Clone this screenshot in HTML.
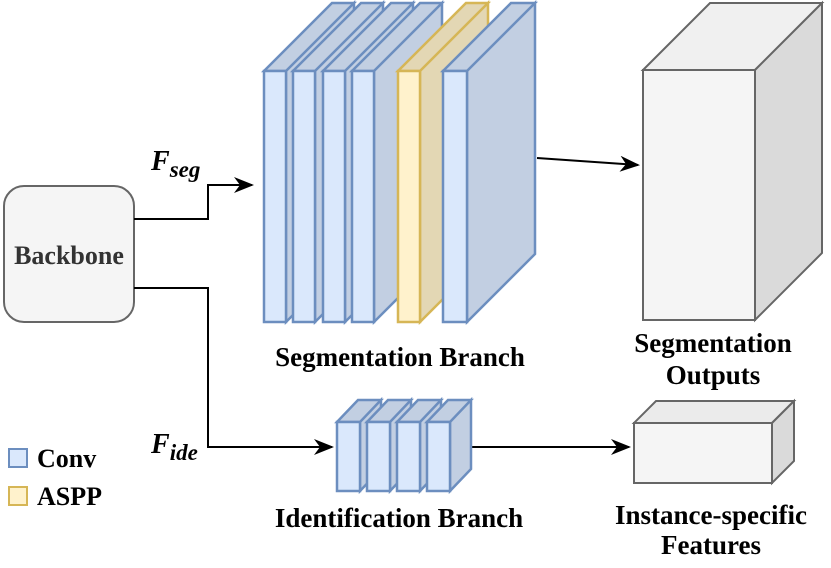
<!DOCTYPE html>
<html><head><style>body{margin:0;background:#fff}svg{display:block}text{font-family:"Liberation Serif",serif;font-weight:bold;fill:#000}</style></head><body>
<svg width="831" height="568" viewBox="0 0 831 568" xmlns="http://www.w3.org/2000/svg">
<defs>
<marker id="b" viewBox="0 0 10 10" markerWidth="20" markerHeight="16" refX="9" refY="5" orient="auto" markerUnits="userSpaceOnUse" preserveAspectRatio="none"><path d="M0,0 L10,5 L0,10 L3,5 z" fill="#000"/></marker></defs>
<rect x="4" y="186" width="130" height="136" rx="20" fill="#f5f5f5" stroke="#666" stroke-width="2"/>
<text x="69" y="264" font-size="26" text-anchor="middle" style="fill:#333">Backbone</text>
<g stroke="#000" stroke-width="2" fill="none">
<path d="M134,219 H208 V185 H252" marker-end="url(#b)"/>
<path d="M134,288 H208 V447 H332" marker-end="url(#b)"/>
<path d="M537,158 L638,165" marker-end="url(#b)"/>
<path d="M472,447 H629" marker-end="url(#b)"/>
</g>
<g stroke-width="2.5" stroke-linejoin="miter">
<g stroke="#6c8ebf">
<path d="M264,71 L332,3 H354 L286,71 Z M286,71 L354,3 V254 L286,322 Z" fill="#c2cfe2"/><rect x="264" y="71" width="22" height="251" fill="#dae8fc"/>
<path d="M293,71 L361,3 H383 L315,71 Z M315,71 L383,3 V254 L315,322 Z" fill="#c2cfe2"/><rect x="293" y="71" width="22" height="251" fill="#dae8fc"/>
<path d="M323,71 L391,3 H413 L345,71 Z M345,71 L413,3 V254 L345,322 Z" fill="#c2cfe2"/><rect x="323" y="71" width="22" height="251" fill="#dae8fc"/>
<path d="M352,71 L420,3 H442 L374,71 Z M374,71 L442,3 V254 L374,322 Z" fill="#c2cfe2"/><rect x="352" y="71" width="22" height="251" fill="#dae8fc"/>
</g>
<g stroke="#d6b656">
<path d="M398,71 L466,3 H488 L420,71 Z M420,71 L488,3 V254 L420,322 Z" fill="#e3d7b4"/><rect x="398" y="71" width="22" height="251" fill="#fff2cc"/>
</g>
<g stroke="#6c8ebf">
<path d="M443,71 L511,3 H535 L467,71 Z M467,71 L535,3 V254 L467,322 Z" fill="#c2cfe2"/><rect x="443" y="71" width="24" height="251" fill="#dae8fc"/>
<path d="M337,422 L358,400 H381 L360,422 Z M360,422 L381,400 V469 L360,491 Z" fill="#c2cfe2"/><rect x="337" y="422" width="23" height="69" fill="#dae8fc"/>
<path d="M367,422 L388,400 H411 L390,422 Z M390,422 L411,400 V469 L390,491 Z" fill="#c2cfe2"/><rect x="367" y="422" width="23" height="69" fill="#dae8fc"/>
<path d="M397,422 L418,400 H441 L420,422 Z M420,422 L441,400 V469 L420,491 Z" fill="#c2cfe2"/><rect x="397" y="422" width="23" height="69" fill="#dae8fc"/>
<path d="M427,422 L448,400 H471 L450,422 Z M450,422 L471,400 V469 L450,491 Z" fill="#c2cfe2"/><rect x="427" y="422" width="23" height="69" fill="#dae8fc"/>
</g>
<g stroke="#666" stroke-width="2">
<path d="M643,70 L710,3 H822 L755,70 Z" fill="#f0f0f0"/><path d="M755,70 L822,3 V253 L755,320 Z" fill="#dadada"/><rect x="643" y="70" width="112" height="250" fill="#f5f5f5"/>
<path d="M634,423 L656,401 H794 L772,423 Z" fill="#ebebeb"/><path d="M772,423 L794,401 V461 L772,483 Z" fill="#dadada"/><rect x="634" y="423" width="138" height="60" fill="#f5f5f5"/>
</g>
</g>
<rect x="9" y="449" width="18" height="18" fill="#dae8fc" stroke="#6c8ebf" stroke-width="2"/>
<rect x="9" y="487" width="18" height="18" fill="#fff2cc" stroke="#d6b656" stroke-width="2"/>
<text x="37" y="467" font-size="26">Conv</text>
<text x="37" y="505" font-size="26">ASPP</text>
<text x="151" y="170" font-size="28" font-style="italic">F<tspan font-size="23" dy="7">seg</tspan></text>
<text x="151" y="453" font-size="28" font-style="italic">F<tspan font-size="23" dy="7">ide</tspan></text>
<text x="400" y="366" font-size="27" text-anchor="middle">Segmentation Branch</text>
<text x="713" y="352" font-size="27" text-anchor="middle">Segmentation</text>
<text x="713" y="384" font-size="27" text-anchor="middle">Outputs</text>
<text x="399" y="527" font-size="27" text-anchor="middle">Identification Branch</text>
<text x="711" y="524" font-size="27" text-anchor="middle">Instance-specific</text>
<text x="711" y="554" font-size="27" text-anchor="middle">Features</text>
</svg>
</body></html>
